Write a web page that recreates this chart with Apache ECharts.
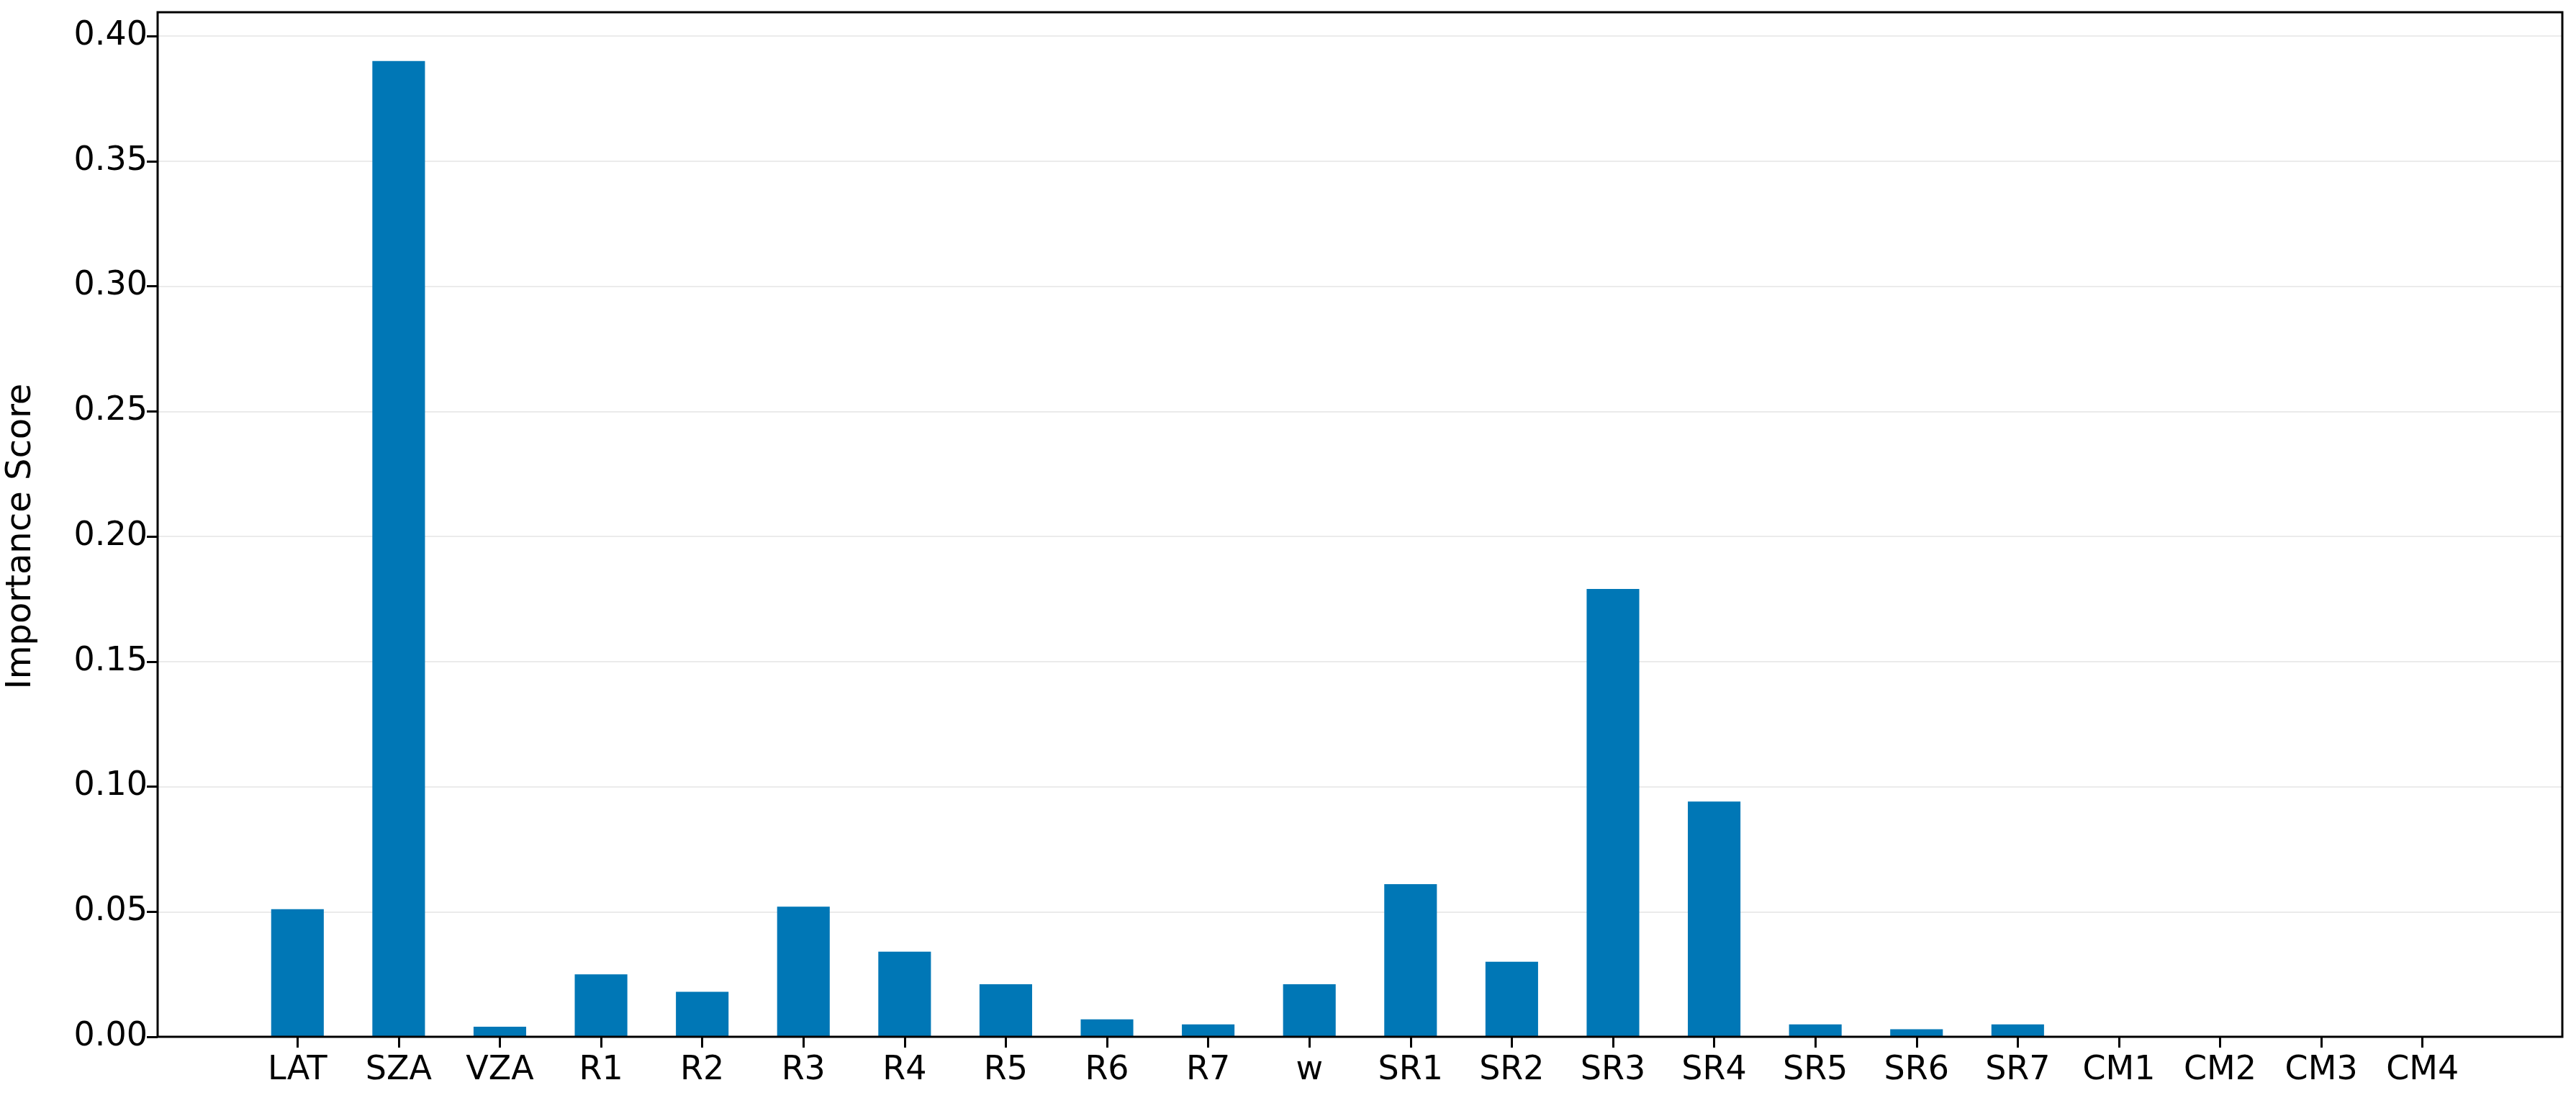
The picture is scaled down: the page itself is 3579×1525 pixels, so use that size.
<!DOCTYPE html>
<html><head><meta charset="utf-8">
<script src="https://cdn.jsdelivr.net/npm/echarts@6/dist/echarts.min.js"></script>
<style>html,body{margin:0;padding:0;background:#fff}#c{width:3579px;height:1525px}</style>
</head><body><div id="c"></div>
<script>
const categories = ['LAT','SZA','VZA','R1','R2','R3','R4','R5','R6','R7','w','SR1','SR2','SR3','SR4','SR5','SR6','SR7','CM1','CM2','CM3','CM4'];
const importance = [0.051,0.390,0.004,0.025,0.018,0.052,0.034,0.021,0.007,0.005,0.021,0.061,0.030,0.179,0.094,0.005,0.003,0.005,0,0,0,0];
const yTicks = {min:0, max:0.40, interval:0.05};
const font = 'DejaVu Sans';
const chart = echarts.init(document.getElementById('c'));
chart.setOption({
  animation:false,
  backgroundColor:'#fff',
  grid:[
    {left:219, right:19, top:17, bottom:85, show:true, borderColor:'#000', borderWidth:3, z:5, containLabel:false, outerBoundsMode:'none'},
    {left:219, right:19, top:50, bottom:85, containLabel:false, outerBoundsMode:'none'},
    {left:343, right:143, top:50, bottom:85, containLabel:false, outerBoundsMode:'none'}
  ],
  xAxis:[
    {gridIndex:0, type:'value', show:false},
    {gridIndex:1, type:'value', show:false},
    {gridIndex:2, type:'category', data:categories,
     axisLine:{show:false},
     axisTick:{show:true, alignWithLabel:true, length:15, lineStyle:{color:'#000', width:3}},
     axisLabel:{fontFamily:font, fontSize:46, color:'#000', margin:24, interval:0}}
  ],
  yAxis:[
    {gridIndex:0, type:'value', show:false},
    {gridIndex:1, type:'value', min:yTicks.min, max:yTicks.max, interval:yTicks.interval,
     axisLine:{show:false},
     axisTick:{show:true, length:15, lineStyle:{color:'#000', width:3}},
     axisLabel:{fontFamily:font, fontSize:46, color:'#000', margin:14, formatter:v=>v.toFixed(2)},
     splitLine:{show:true, lineStyle:{color:'#ebebeb', width:2}},
     name:'Importance Score', nameLocation:'middle', nameGap:165,
     nameTextStyle:{fontFamily:font, fontSize:48, color:'#000'}},
    {gridIndex:2, type:'value', min:yTicks.min, max:yTicks.max, interval:yTicks.interval, show:false, splitLine:{show:false}}
  ],
  series:[{type:'bar', xAxisIndex:2, yAxisIndex:2, data:importance, barWidth:'52%',
    itemStyle:{color:'#0077b6'}}]
});
</script></body></html>
